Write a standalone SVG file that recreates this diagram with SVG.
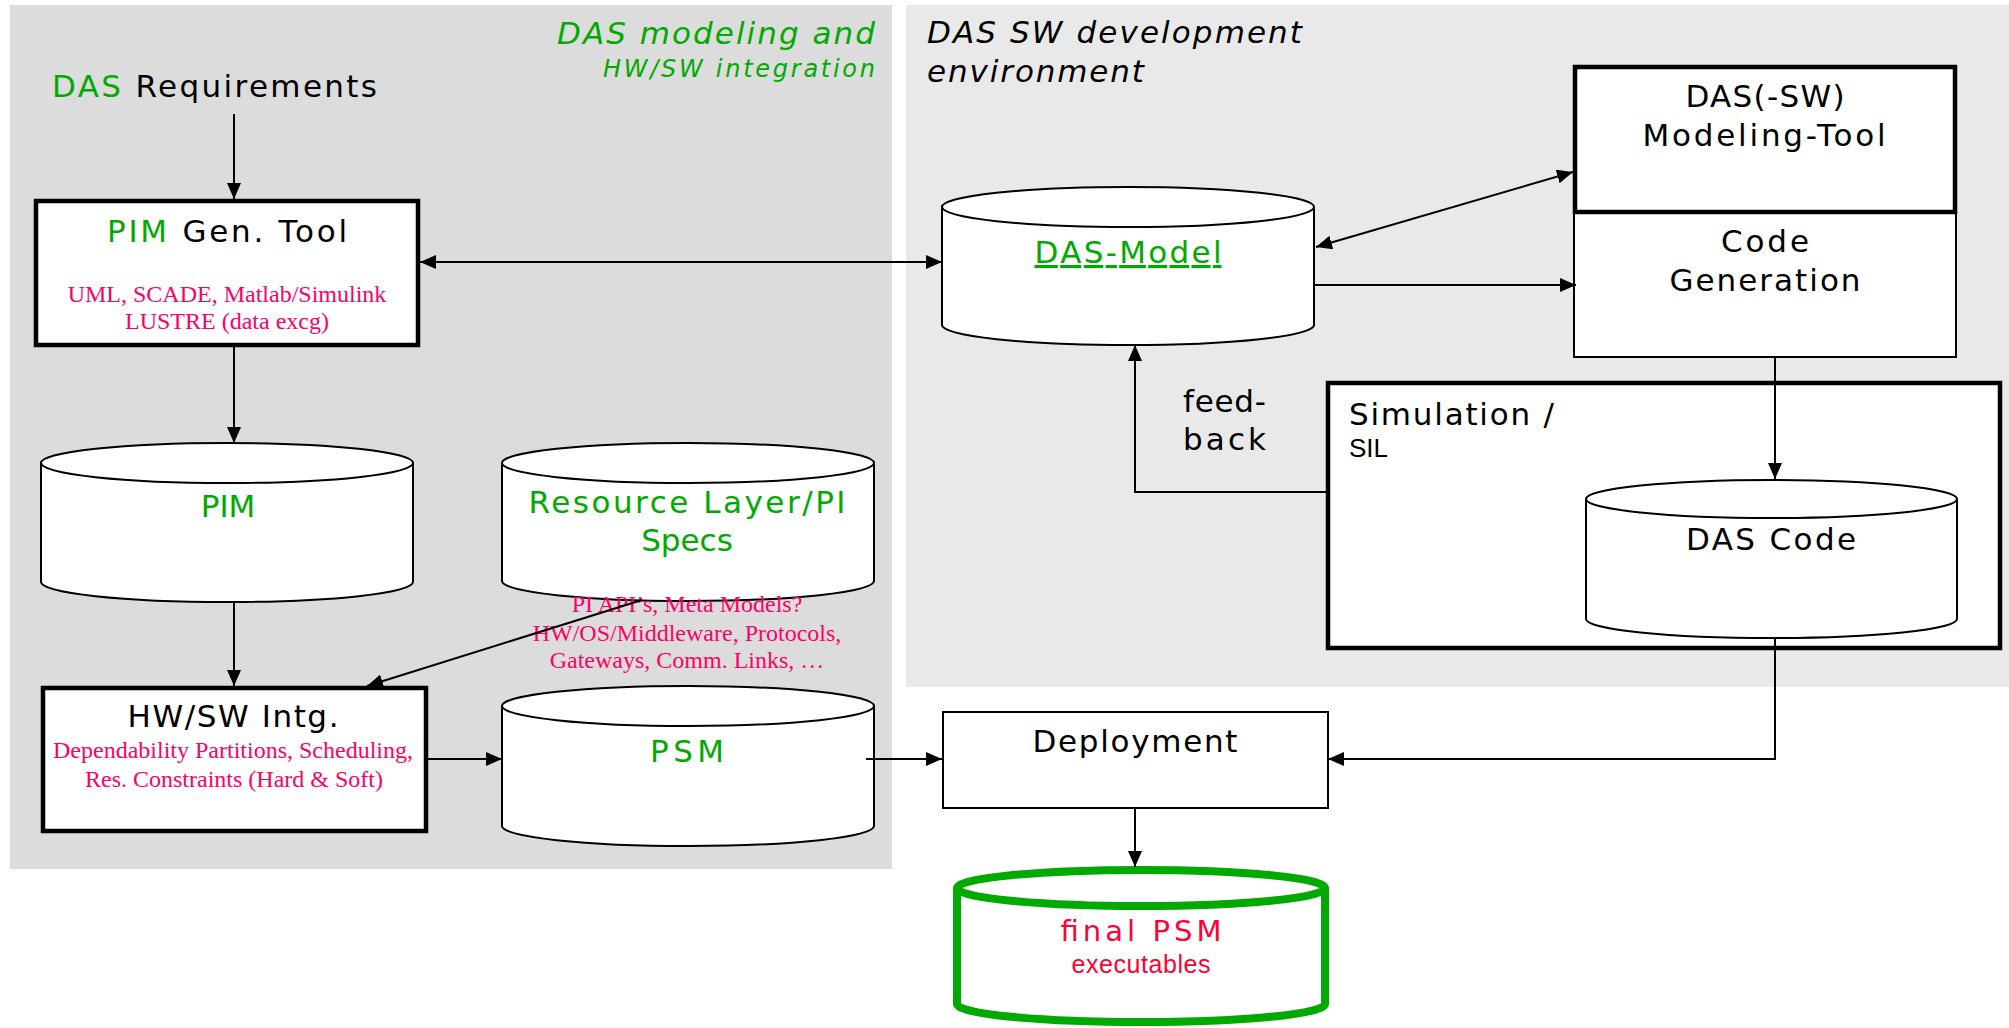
<svg xmlns="http://www.w3.org/2000/svg" width="2009" height="1028" viewBox="0 0 2009 1028">
  <style>
    .lbl { font-family: "DejaVu Sans", Verdana, sans-serif; font-size: 31px; fill: #000; }
    .ital { font-family: "DejaVu Sans", Verdana, sans-serif; font-style: italic; }
    .green { fill: #00aa00; }
    .note { font-family: "Liberation Serif", "Times New Roman", serif; font-size: 24px; fill: #ff0066; }
    .box { fill: #fff; stroke: #000; stroke-width: 2; }
    .thick { fill: #fff; stroke: #000; stroke-width: 4.5; }
    .cyl { fill: #fff; stroke: #000; stroke-width: 2; }
    .conn { fill: none; stroke: #000; stroke-width: 2; }
  </style>
  <defs>
    <marker id="arrow" markerUnits="userSpaceOnUse" markerWidth="16" markerHeight="14" refX="16" refY="7" orient="auto-start-reverse">
      <path d="M0,0 L16,7 L0,14 z" fill="#000"/>
    </marker>
  </defs>

  <!-- background areas -->
  <g id="area-modeling">
    <rect x="10" y="5" width="882" height="864" fill="#dcdcdc"/>
    <text class="ital green" x="875" y="44" font-size="31" text-anchor="end" textLength="318">DAS modeling and</text>
    <text class="ital green" x="875" y="77" font-size="24" text-anchor="end" textLength="272">HW/SW integration</text>
  </g>
  <g id="area-swdev">
    <rect x="906" y="5" width="1103" height="682" fill="#e9e9e9"/>
    <text class="ital" x="927" y="43" font-size="31" textLength="375">DAS SW development</text>
    <text class="ital" x="927" y="82" font-size="31" textLength="217">environment</text>
  </g>

  <g id="requirements">
    <text class="lbl" x="52" y="97" textLength="325"><tspan class="green">DAS</tspan> Requirements</text>
  </g>

  <g id="pim-gen-tool">
    <rect class="thick" x="36" y="201" width="382" height="144"/>
    <text class="lbl" x="227" y="242" text-anchor="middle" textLength="240"><tspan class="green">PIM</tspan> Gen. Tool</text>
    <text class="note" x="227" y="302" text-anchor="middle">UML, SCADE, Matlab/Simulink</text>
    <text class="note" x="227" y="329" text-anchor="middle">LUSTRE (data excg)</text>
  </g>

  <g id="pim">
    <path class="cyl" d="M41,463 V582 A186,20 0 0 0 413,582 V463"/>
    <ellipse class="cyl" cx="227" cy="463" rx="186" ry="20"/>
    <text class="lbl green" x="228" y="517" text-anchor="middle">PIM</text>
  </g>

  <g id="resource-layer">
    <path class="cyl" d="M502,463 V581 A186,20 0 0 0 874,581 V463"/>
    <ellipse class="cyl" cx="688" cy="463" rx="186" ry="20"/>
    <text class="lbl green" x="687" y="513" text-anchor="middle" textLength="317">Resource Layer/PI</text>
    <text class="lbl green" x="687" y="551" text-anchor="middle">Specs</text>
    <text class="note" x="687" y="612" text-anchor="middle">PI API’s, Meta Models?</text>
    <text class="note" x="687" y="641" text-anchor="middle">HW/OS/Middleware, Protocols,</text>
    <text class="note" x="687" y="668" text-anchor="middle">Gateways, Comm. Links, …</text>
  </g>

  <g id="hwsw-intg">
    <rect class="thick" x="43" y="688" width="383" height="143"/>
    <text class="lbl" x="233" y="727" text-anchor="middle" textLength="211">HW/SW Intg.</text>
    <text class="note" x="233" y="758" text-anchor="middle">Dependability Partitions, Scheduling,</text>
    <text class="note" x="234" y="787" text-anchor="middle">Res. Constraints (Hard &amp; Soft)</text>
  </g>

  <g id="psm">
    <path class="cyl" d="M502,706 V826 A186,20 0 0 0 874,826 V706"/>
    <ellipse class="cyl" cx="688" cy="706" rx="186" ry="20"/>
    <text class="lbl green" x="687" y="762" text-anchor="middle" textLength="74">PSM</text>
  </g>

  <g id="das-model">
    <path class="cyl" d="M942,207 V325 A186,20 0 0 0 1314,325 V207"/>
    <ellipse class="cyl" cx="1128" cy="207" rx="186" ry="20"/>
    <text class="lbl green" x="1128" y="263" text-anchor="middle" textLength="187" text-decoration="underline">DAS-Model</text>
  </g>

  <g id="code-generation">
    <rect class="box" x="1574" y="212" width="382" height="145"/>
    <text class="lbl" x="1765" y="252" text-anchor="middle" textLength="88">Code</text>
    <text class="lbl" x="1765" y="291" text-anchor="middle" textLength="191">Generation</text>
  </g>

  <g id="modeling-tool">
    <rect class="thick" x="1575" y="67" width="380" height="145"/>
    <text class="lbl" x="1765" y="107" text-anchor="middle" textLength="159">DAS(-SW)</text>
    <text class="lbl" x="1764" y="146" text-anchor="middle" textLength="243">Modeling-Tool</text>
  </g>

  <g id="simulation">
    <rect class="thick" x="1328" y="383" width="672" height="265"/>
    <text class="lbl" x="1349" y="425" textLength="205">Simulation /</text>
    <text x="1349" y="457" font-family="'Liberation Sans', Arial, sans-serif" font-size="26">SIL</text>
  </g>

  <g id="das-code">
    <path class="cyl" d="M1586,499 V619 A185.5,19 0 0 0 1957,619 V499"/>
    <ellipse class="cyl" cx="1771.5" cy="499" rx="185.5" ry="19"/>
    <text class="lbl" x="1771" y="550" text-anchor="middle" textLength="170">DAS Code</text>
  </g>

  <g id="feedback-label">
    <text class="lbl" x="1183" y="412" textLength="83">feed-</text>
    <text class="lbl" x="1183" y="450" textLength="83">back</text>
  </g>

  <g id="deployment">
    <rect class="box" x="943" y="712" width="385" height="96"/>
    <text class="lbl" x="1135" y="752" text-anchor="middle" textLength="205">Deployment</text>
  </g>

  <g id="final-psm">
    <path d="M957,888 V1004 A184,18 0 0 0 1325,1004 V888" fill="#fff" stroke="#00aa00" stroke-width="8"/>
    <ellipse cx="1141" cy="888" rx="184" ry="18" fill="#fff" stroke="#00aa00" stroke-width="8"/>
    <text x="1141" y="941" text-anchor="middle" font-family="'DejaVu Sans', Verdana, sans-serif" font-size="29" fill="#ff0033" textLength="161">final PSM</text>
    <text x="1141" y="973" text-anchor="middle" font-family="'Liberation Sans', Arial, sans-serif" font-size="25" fill="#ff0033" textLength="139">executables</text>
  </g>

  <g id="connectors">
    <line class="conn" x1="234" y1="114" x2="234" y2="199" marker-end="url(#arrow)"/>
    <line class="conn" x1="420" y1="262" x2="942" y2="262" marker-start="url(#arrow)" marker-end="url(#arrow)"/>
    <line class="conn" x1="1316" y1="247" x2="1573" y2="172" marker-start="url(#arrow)" marker-end="url(#arrow)"/>
    <line class="conn" x1="1314" y1="285" x2="1576" y2="285" marker-end="url(#arrow)"/>
    <line class="conn" x1="1775" y1="357" x2="1775" y2="479" marker-end="url(#arrow)"/>
    <polyline class="conn" points="1326,492 1135,492 1135,345" marker-end="url(#arrow)"/>
    <polyline class="conn" points="1775,638 1775,759 1328,759" marker-end="url(#arrow)"/>
    <line class="conn" x1="1135" y1="808" x2="1135" y2="867" marker-end="url(#arrow)"/>
    <line class="conn" x1="234" y1="347" x2="234" y2="443" marker-end="url(#arrow)"/>
    <line class="conn" x1="234" y1="602" x2="234" y2="686" marker-end="url(#arrow)"/>
    <line class="conn" x1="642" y1="600" x2="367" y2="686" marker-end="url(#arrow)"/>
    <line class="conn" x1="428" y1="759" x2="502" y2="759" marker-end="url(#arrow)"/>
    <line class="conn" x1="866" y1="759" x2="942" y2="759" marker-end="url(#arrow)"/>
  </g>
</svg>
